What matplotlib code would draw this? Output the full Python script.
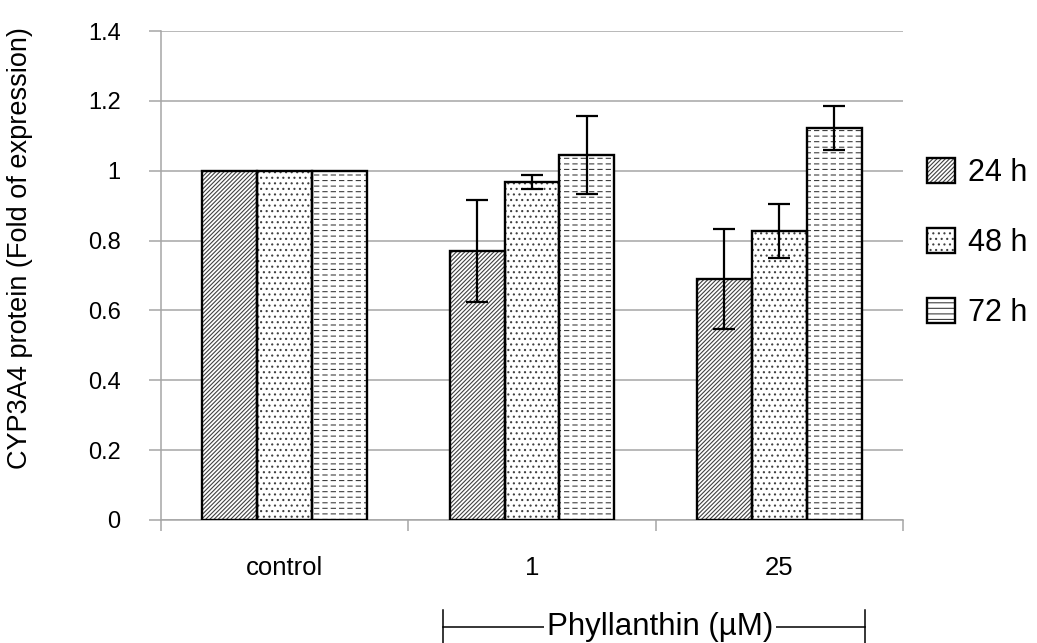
import numpy as np
import matplotlib
matplotlib.use('Agg')
import matplotlib.pyplot as plt
from matplotlib.patches import Patch
from matplotlib.legend_handler import HandlerTuple

plt.rcParams['font.family'] = ['Liberation Sans', 'DejaVu Sans']
plt.rcParams['hatch.linewidth'] = 0.8

# data
groups = ['control', '1', '25']
series = ['24 h', '48 h', '72 h']
vals_24 = [1.0, 0.77, 0.69]
vals_48 = [1.0, 0.968, 0.828]
vals_72 = [1.0, 1.045, 1.122]
err_24 = [None, 0.145, 0.142]
err_48 = [None, 0.02, 0.078]
err_72 = [None, 0.113, 0.062]

grey = '#a6a6a6'
hatch_col = '#404040'

fig = plt.figure(figsize=(10.37, 6.43), dpi=100)
ax = fig.add_axes([161/1037, 123/643, 742/1037, 489/643])

x = np.arange(len(groups))
w = 1 / 4.5


def thick_hatch(artist, lw):
    # white vertical hatch cut into horizontal lines -> dashed look
    if hasattr(artist, 'set_hatch_linewidth'):
        artist.set_hatch_linewidth(lw)
    orig = artist.draw

    def draw(renderer):
        with plt.rc_context({'hatch.linewidth': lw}):
            orig(renderer)
    artist.draw = draw


def draw_series(pos, vals, errs, kind):
    # hatch layer
    if kind == 'diag':
        ax.bar(pos, vals, w, color='white', edgecolor=hatch_col, hatch='////////', lw=0, zorder=2)
    elif kind == 'dots':
        ax.bar(pos, vals, w, color='white', edgecolor=hatch_col, hatch='...', lw=0, zorder=2)
    else:
        ax.bar(pos, vals, w, color='white', edgecolor=hatch_col, hatch='---', lw=0, zorder=2)
        cut = ax.bar(pos, vals, w, fill=False, edgecolor='white', hatch='||', lw=0, zorder=3)
        for p in cut:
            thick_hatch(p, 2.2)
    # outline
    ax.bar(pos, vals, w, fill=False, edgecolor='black', lw=1.7, zorder=4)
    # error bars (none on control)
    ex = [p for p, e in zip(pos, errs) if e is not None]
    ey = [v for v, e in zip(vals, errs) if e is not None]
    ee = [e for e in errs if e is not None]
    ax.errorbar(ex, ey, yerr=ee, fmt='none', ecolor='black', elinewidth=1.6,
                capsize=8, capthick=1.6, zorder=5)


draw_series(x - w, vals_24, err_24, 'diag')
draw_series(x, vals_48, err_48, 'dots')
draw_series(x + w, vals_72, err_72, 'dash')

ax.set_xlim(-0.5, 2.5)
ax.set_ylim(0, 1.4)
ax.set_yticks(np.arange(0, 1.41, 0.2))
ax.set_yticklabels(['0', '0.2', '0.4', '0.6', '0.8', '1', '1.2', '1.4'])
ax.set_xticks(x)
ax.set_xticklabels(groups)
ax.set_xticks(np.arange(-0.5, 2.6, 1), minor=True)

ax.set_axisbelow(True)
ax.yaxis.grid(True, color=grey, lw=1.1)
for s in ['top', 'right']:
    ax.spines[s].set_visible(False)
for s in ['left', 'bottom']:
    ax.spines[s].set_color(grey)
    ax.spines[s].set_linewidth(1.1)

ax.tick_params(axis='y', length=9, width=1.1, color=grey, pad=20, labelsize=17)
ax.tick_params(axis='x', which='major', length=0, pad=26, labelsize=18.5)
ax.tick_params(axis='x', which='minor', length=8, width=1.1, color=grey)

fig.text(20/1037, 1 - 248/643, 'CYP3A4 protein (Fold of expression)', rotation=90,
         ha='center', va='center', fontsize=19.5)

# legend
h24 = Patch(facecolor='white', edgecolor=hatch_col, hatch='////////', lw=0)
h48 = Patch(facecolor='white', edgecolor=hatch_col, hatch='...', lw=0)
h72 = Patch(facecolor='white', edgecolor=hatch_col, hatch='---', lw=0)
box = lambda: Patch(fill=False, edgecolor='black', lw=1.7)
handles = [(h24, box()), (h48, box()), (h72, box())]
leg = fig.legend(handles, series, loc='upper left', bbox_to_anchor=(927/1037, 1 - 158/643),
                 frameon=False, fontsize=22, handlelength=0.9, handleheight=0.9,
                 handletextpad=0.45, labelspacing=1.3, borderpad=0, borderaxespad=0,
                 handler_map={tuple: HandlerTuple(ndivide=1, pad=0)})

# Phyllanthin bracket under the two dose groups
yb = 1 - 627/643
fig.add_artist(plt.Line2D([443/1037, 865/1037], [yb, yb], color='black', lw=1.1))
fig.add_artist(plt.Line2D([443/1037, 443/1037], [yb - 0.027, yb + 0.027], color='black', lw=1.1))
fig.add_artist(plt.Line2D([865/1037, 865/1037], [yb - 0.027, yb + 0.027], color='black', lw=1.1))
fig.text(660/1037, yb, 'Phyllanthin (µM)', ha='center', va='center', fontsize=22.5,
         bbox=dict(facecolor='white', edgecolor='none', pad=2))

fig.savefig('out.png', dpi=100)
